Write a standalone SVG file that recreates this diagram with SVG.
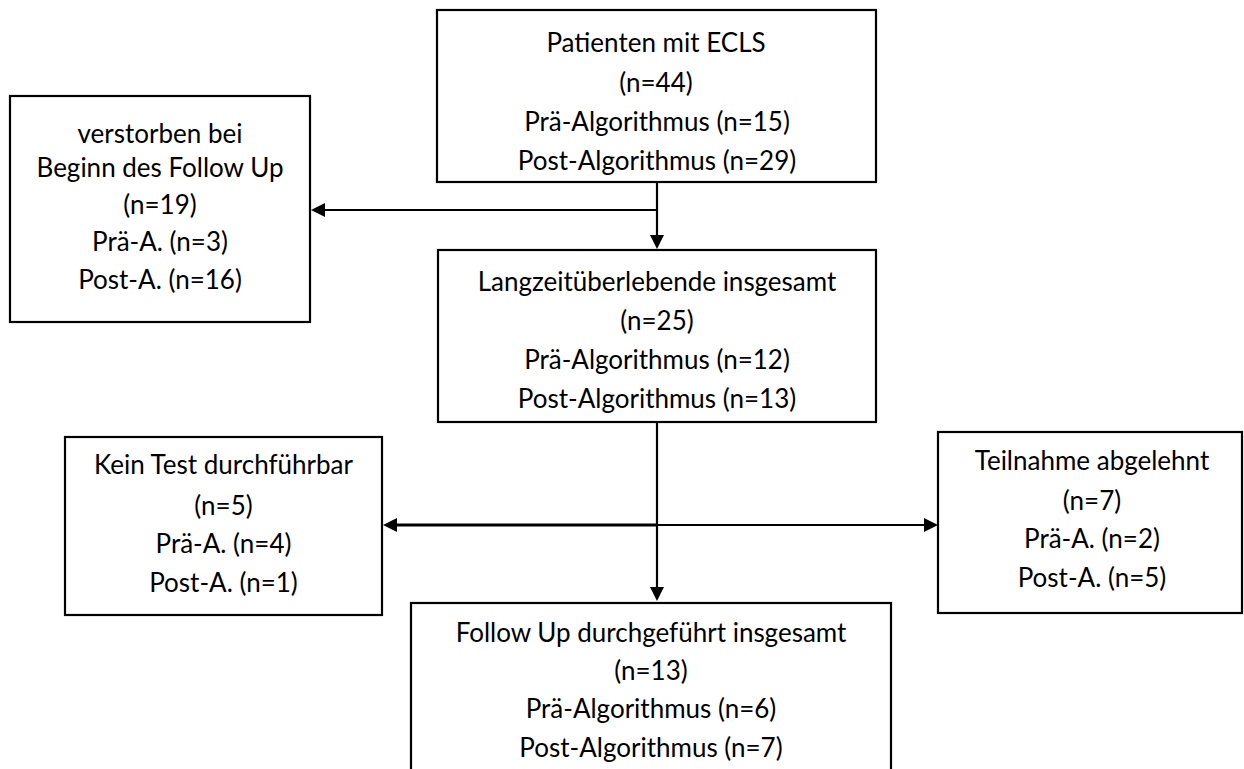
<svg xmlns="http://www.w3.org/2000/svg" width="1244" height="769" viewBox="0 0 1244 769">
  <defs>
    <style>
      .box { fill: #ffffff; stroke: #000000; stroke-width: 2.2; }
      .lbl { font-family: Lato, "Open Sans", "Liberation Sans", sans-serif; font-size: 26px; fill: #000000; text-anchor: middle; }
      .ln { stroke: #000000; stroke-width: 2.2; fill: none; }
      .ln-thick { stroke: #000000; stroke-width: 3; fill: none; }
      .ah { fill: #000000; stroke: none; }
    </style>
  </defs>
  <rect x="0" y="0" width="1244" height="769" fill="#ffffff"/>

  <g id="connectors">
    <!-- top box down to Langzeit -->
    <line class="ln" x1="657" y1="182" x2="657" y2="236"/>
    <polygon class="ah" points="650,235 664,235 657,249"/>
    <!-- branch to verstorben -->
    <line class="ln" x1="657" y1="210" x2="324" y2="210"/>
    <polygon class="ah" points="325,203 325,217 311,210"/>
    <!-- Langzeit down to Follow Up -->
    <line class="ln" x1="657" y1="422" x2="657" y2="588"/>
    <polygon class="ah" points="650,587 664,587 657,601"/>
    <!-- horizontal branch -->
    <line class="ln-thick" x1="396" y1="525" x2="657" y2="525"/>
    <line class="ln" x1="657" y1="525" x2="925" y2="525"/>
    <polygon class="ah" points="397,518 397,532 383,525"/>
    <polygon class="ah" points="924,518 924,532 938,525"/>
  </g>

  <g id="node-ecls">
    <rect class="box" x="437" y="10" width="439" height="172"/>
    <text class="lbl" x="656" y="52">Patienten mit ECLS</text>
    <text class="lbl" x="656" y="92">(n=44)</text>
    <text class="lbl" x="657" y="131">Prä-Algorithmus (n=15)</text>
    <text class="lbl" x="657" y="170">Post-Algorithmus (n=29)</text>
  </g>

  <g id="node-verstorben">
    <rect class="box" x="10" y="96" width="300" height="226"/>
    <text class="lbl" x="160" y="143">verstorben bei</text>
    <text class="lbl" x="160" y="177">Beginn des Follow Up</text>
    <text class="lbl" x="160" y="214">(n=19)</text>
    <text class="lbl" x="160" y="251">Prä-A. (n=3)</text>
    <text class="lbl" x="160" y="289">Post-A. (n=16)</text>
  </g>

  <g id="node-langzeit">
    <rect class="box" x="438" y="250" width="438" height="172"/>
    <text class="lbl" x="657" y="291">Langzeitüberlebende insgesamt</text>
    <text class="lbl" x="657" y="330">(n=25)</text>
    <text class="lbl" x="657" y="369">Prä-Algorithmus (n=12)</text>
    <text class="lbl" x="657" y="408">Post-Algorithmus (n=13)</text>
  </g>

  <g id="node-keintest">
    <rect class="box" x="65" y="437" width="317" height="178"/>
    <text class="lbl" x="223.5" y="474">Kein Test durchführbar</text>
    <text class="lbl" x="223.5" y="515">(n=5)</text>
    <text class="lbl" x="223.5" y="553">Prä-A. (n=4)</text>
    <text class="lbl" x="223.5" y="592">Post-A. (n=1)</text>
  </g>

  <g id="node-teilnahme">
    <rect class="box" x="938" y="432" width="304" height="181"/>
    <text class="lbl" x="1092" y="470">Teilnahme abgelehnt</text>
    <text class="lbl" x="1092" y="510">(n=7)</text>
    <text class="lbl" x="1092" y="548">Prä-A. (n=2)</text>
    <text class="lbl" x="1092" y="587">Post-A. (n=5)</text>
  </g>

  <g id="node-followup">
    <rect class="box" x="411" y="603" width="480" height="190"/>
    <text class="lbl" x="651" y="642">Follow Up durchgeführt insgesamt</text>
    <text class="lbl" x="651" y="680">(n=13)</text>
    <text class="lbl" x="651" y="718">Prä-Algorithmus (n=6)</text>
    <text class="lbl" x="651" y="757">Post-Algorithmus (n=7)</text>
  </g>
</svg>
